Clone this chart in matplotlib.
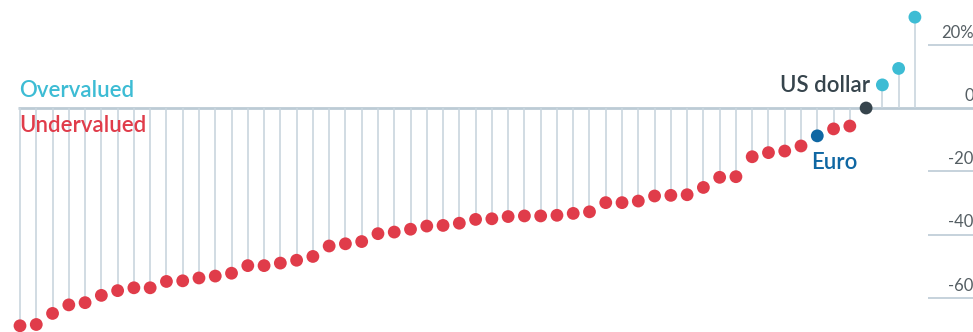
import matplotlib
matplotlib.use("Agg")
import matplotlib.pyplot as plt
import numpy as np

plt.rcParams['font.family'] = ['Lato', 'DejaVu Sans']

# Valuation against the US dollar, % (sorted)
values = [-68.8, -68.4, -64.9, -62.2, -61.5, -59.2, -57.7, -56.8, -56.8, -54.8,
          -54.6, -53.7, -53.1, -52.2, -49.8, -49.8, -49.0, -48.1, -46.9, -43.6,
          -42.9, -42.2, -39.7, -39.2, -38.3, -37.3, -37.1, -36.4, -35.2, -35.0,
          -34.3, -34.1, -34.1, -33.9, -33.3, -32.8, -29.9, -29.9, -29.4, -27.8,
          -27.6, -27.4, -25.1, -21.9, -21.7, -15.4, -14.1, -13.6, -12.0, -8.8,
          -6.6, -5.7, 0.0, 7.3, 12.5, 28.7]
euro_index = 49
usd_index = 52
yticks = [20, 0, -20, -40, -60]
ytick_labels = ["20%", "0", "-20", "-40", "-60"]

RED = "#e03c4a"
CYAN = "#3dbcd4"
EURO = "#0f67a3"
USD = "#36444c"
STEM = "#c9d6de"
GRID = "#bccbd5"
TICK = "#555e63"

fig = plt.figure(figsize=(9.73, 3.32), dpi=100)
ax = fig.add_axes([0, 0, 1, 1])
ax.set_xlim(-1.229, 58.57)
ax.set_ylim(-70.77, 34.12)
ax.axis('off')

x = np.arange(len(values))
vals = np.array(values)
colors = []
for i, v in enumerate(vals):
    if i == euro_index:
        colors.append(EURO)
    elif i == usd_index:
        colors.append(USD)
    elif v > 0:
        colors.append(CYAN)
    else:
        colors.append(RED)

# right-side gridlines
for t in yticks:
    if t == 0:
        ax.plot([-0.1, 58.6], [0, 0], color=GRID, lw=2.0, zorder=1, solid_capstyle='butt')
    else:
        ax.plot([55.81, 58.6], [t, t], color=GRID, lw=1.2, zorder=1, solid_capstyle='butt')

# stems
ax.vlines(x, 0, vals, color=STEM, lw=1.2, zorder=2)
ax.scatter(x, vals, s=85, c=colors, zorder=3, linewidths=0)

# tick labels
for t, lab in zip(yticks, ytick_labels):
    ax.text(58.62, t + 1.3, lab, ha='right', va='bottom', fontsize=12, color=TICK)

ax.text(-0.05, 5.5, "Overvalued", color=CYAN, fontsize=16, fontweight='semibold',
        ha='left', va='center')
ax.text(-0.05, -5.6, "Undervalued", color=RED, fontsize=16, fontweight='semibold',
        ha='left', va='center')
ax.text(usd_index + 0.25, 7.2, "US dollar", color=USD, fontsize=16, fontweight='semibold',
        ha='right', va='center')
ax.text(euro_index - 0.4, -17.2, "Euro", color=EURO, fontsize=16, fontweight='semibold',
        ha='left', va='center')

fig.savefig("out.png", dpi=100)
